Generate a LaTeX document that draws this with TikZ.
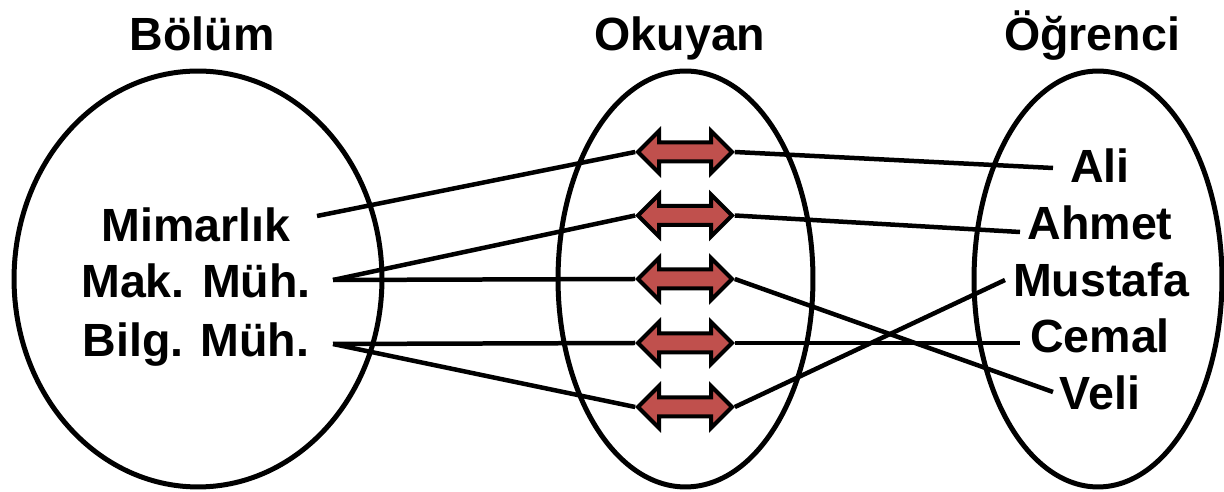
\documentclass[tikz,border=0pt]{standalone}
\usepackage{fontspec}
\setmainfont{Liberation Sans}
\usetikzlibrary{shapes.arrows}
\definecolor{arrowred}{HTML}{C0504D}
\begin{document}
\begin{tikzpicture}[x=0.02cm,y=-0.02cm,
  lbl/.style={font=\bfseries\fontsize{26.5}{30}\selectfont, anchor=base, inner sep=0pt},
  setline/.style={line width=0.1cm},
  conn/.style={line width=0.09cm},
  arr/.style={double arrow, draw=black, fill=arrowred, line width=0.08cm,
    inner xsep=0pt, inner ysep=0.15cm, minimum height=1.88cm, minimum width=0.76cm,
    double arrow head extend=0.23cm, double arrow tip angle=90}]
\useasboundingbox (0,0) rectangle (1224,492);

% the three sets
\draw[setline] (198,279) ellipse [x radius=3.68cm, y radius=4.16cm];
\draw[setline] (685.5,279) ellipse [x radius=2.55cm, y radius=4.16cm];
\draw[setline] (1098,279) ellipse [x radius=2.48cm, y radius=4.16cm];

% titles
\node[lbl] (tb) at (202,51) {Bölüm};
\node[lbl] (to) at (680,51) {Okuyan};
\node[lbl] (tg) at (1092,51) {Öğrenci};

% departments
\node[lbl] (mim) at (196,242) {Mimarlık};
\node[lbl] (mak) at (196,298) {Mak. Müh.};
\node[lbl] (bil) at (196,357) {Bilg. Müh.};

% students
\node[lbl] (ali) at (1100,183) {Ali};
\node[lbl] (ahm) at (1100,240) {Ahmet};
\node[lbl] (mus) at (1101,297) {Mustafa};
\node[lbl] (cem) at (1100,353) {Cemal};
\node[lbl] (vel) at (1100,410) {Veli};

% relationship arrows
\node[arr] (a1) at (685,152) {};
\node[arr] (a2) at (685,215.5) {};
\node[arr] (a3) at (685,279) {};
\node[arr] (a4) at (685,343) {};
\node[arr] (a5) at (685,407) {};

% connector ends next to the labels
\coordinate (mimE) at (317,216);
\coordinate (makE) at (333,280);
\coordinate (bilE) at (333,344);
\coordinate (aliW) at (1053,168);
\coordinate (ahmW) at (1020,232);
\coordinate (musW) at (1005,280);
\coordinate (cemW) at (1020,343);
\coordinate (velW) at (1053,392);

% department side
\draw[conn] (mimE) -- (a1.west);
\draw[conn] (makE) -- (a2.west);
\draw[conn] (makE) -- (a3.west);
\draw[conn] (bilE) -- (a4.west);
\draw[conn] (bilE) -- (a5.west);

% student side
\draw[conn] (a1.east) -- (aliW);
\draw[conn] (a2.east) -- (ahmW);
\draw[conn] (a3.east) -- (velW);
\draw[conn] (a4.east) -- (cemW);
\draw[conn] (a5.east) -- (musW);
\end{tikzpicture}
\end{document}
